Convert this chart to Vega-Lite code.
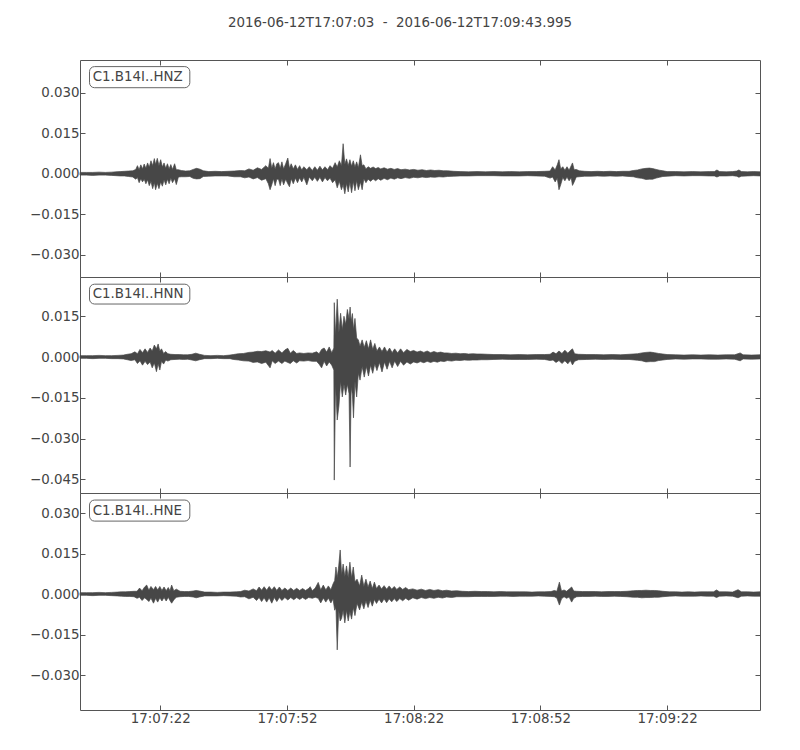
{
  "$schema": "https://vega.github.io/schema/vega-lite/v6.json",
  "background": "white",
  "padding": {"left": 28, "top": 15, "right": 30, "bottom": 10},
  "bounds": "flush",
  "spacing": 0,
  "title": {"text": "2016-06-12T17:07:03\u00a0\u00a0-\u00a0\u00a02016-06-12T17:09:43.995", "fontSize": 13.4, "font": "DejaVu Sans", "fontWeight": "normal", "color": "#444444", "anchor": "middle", "frame": "group", "offset": 30, "dx": -20},
  "config": {
    "font": "DejaVu Sans",
    "view": {"stroke": "#555555", "strokeWidth": 1},
    "axis": {"domain": false, "grid": false, "tickColor": "#555555", "tickSize": -5, "labelFontSize": 13.4, "labelColor": "#444444", "labelFont": "DejaVu Sans", "title": null, "labelPadding": 6}
  },
  "datasets": {
    "hnz": [
      {"t":0,"hi":0.0005,"lo":-0.0005},{"t":1.5,"hi":0.0005,"lo":-0.0005},{"t":3,"hi":0.0005,"lo":-0.0006},{"t":4.5,"hi":0.0006,"lo":-0.0005},{"t":6,"hi":0.0005,"lo":-0.0005},{"t":7.5,"hi":0.0006,"lo":-0.0006},{"t":8.5,"hi":0.0007,"lo":-0.0007},{"t":9.5,"hi":0.0008,"lo":-0.0008},{"t":10.5,"hi":0.0009,"lo":-0.0008},{"t":11.5,"hi":0.0010,"lo":-0.0010},{"t":12.5,"hi":0.0011,"lo":-0.0012},
      {"t":13.2,"hi":0.0016,"lo":-0.0020},{"t":13.6,"hi":0.0030,"lo":-0.0014},{"t":14,"hi":0.0015,"lo":-0.0033},{"t":14.4,"hi":0.0033,"lo":-0.0018},{"t":14.8,"hi":0.0018,"lo":-0.0030},{"t":15.2,"hi":0.0036,"lo":-0.0020},{"t":15.6,"hi":0.0020,"lo":-0.0037},{"t":16,"hi":0.0040,"lo":-0.0022},{"t":16.4,"hi":0.0024,"lo":-0.0044},{"t":16.8,"hi":0.0048,"lo":-0.0028},{"t":17.2,"hi":0.0030,"lo":-0.0055},{"t":17.6,"hi":0.0056,"lo":-0.0032},{"t":17.9,"hi":0.0034,"lo":-0.0059},{"t":18.3,"hi":0.0057,"lo":-0.0035},{"t":18.7,"hi":0.0030,"lo":-0.0055},{"t":19.1,"hi":0.0052,"lo":-0.0030},{"t":19.5,"hi":0.0025,"lo":-0.0046},{"t":19.9,"hi":0.0040,"lo":-0.0022},{"t":20.3,"hi":0.0020,"lo":-0.0041},{"t":20.7,"hi":0.0037,"lo":-0.0020},{"t":21.1,"hi":0.0018,"lo":-0.0037},{"t":21.5,"hi":0.0034,"lo":-0.0016},{"t":21.9,"hi":0.0016,"lo":-0.0033},{"t":22.4,"hi":0.0037,"lo":-0.0018},{"t":22.8,"hi":0.0015,"lo":-0.0040},{"t":23.3,"hi":0.0015,"lo":-0.0012},
      {"t":24,"hi":0.0012,"lo":-0.0011},{"t":25,"hi":0.0010,"lo":-0.0011},{"t":26,"hi":0.0011,"lo":-0.0010},{"t":26.8,"hi":0.0016,"lo":-0.0017},{"t":27.6,"hi":0.0020,"lo":-0.0019},{"t":28.4,"hi":0.0017,"lo":-0.0018},{"t":29.2,"hi":0.0011,"lo":-0.0010},{"t":30.5,"hi":0.0008,"lo":-0.0009},{"t":32,"hi":0.0009,"lo":-0.0008},{"t":33.5,"hi":0.0008,"lo":-0.0008},{"t":35,"hi":0.0009,"lo":-0.0008},{"t":36.5,"hi":0.0010,"lo":-0.0011},{"t":38,"hi":0.0012,"lo":-0.0011},
      {"t":39,"hi":0.0011,"lo":-0.0015},{"t":40,"hi":0.0018,"lo":-0.0012},{"t":41,"hi":0.0013,"lo":-0.0019},{"t":42,"hi":0.0022,"lo":-0.0014},{"t":43,"hi":0.0016,"lo":-0.0024},{"t":44,"hi":0.0030,"lo":-0.0018},
      {"t":44.6,"hi":0.0020,"lo":-0.0037},{"t":45,"hi":0.0056,"lo":-0.0059},{"t":45.4,"hi":0.0020,"lo":-0.0041},{"t":45.8,"hi":0.0041,"lo":-0.0018},{"t":46.2,"hi":0.0018,"lo":-0.0044},{"t":46.6,"hi":0.0037,"lo":-0.0020},{"t":47,"hi":0.0041,"lo":-0.0020},{"t":47.4,"hi":0.0020,"lo":-0.0044},{"t":47.8,"hi":0.0044,"lo":-0.0018},{"t":48.2,"hi":0.0018,"lo":-0.0041},{"t":48.7,"hi":0.0037,"lo":-0.0020},{"t":49.2,"hi":0.0058,"lo":-0.0037},{"t":49.6,"hi":0.0020,"lo":-0.0048},{"t":50,"hi":0.0037,"lo":-0.0018},{"t":50.5,"hi":0.0018,"lo":-0.0037},{"t":51,"hi":0.0033,"lo":-0.0016},{"t":51.5,"hi":0.0016,"lo":-0.0033},{"t":52,"hi":0.0030,"lo":-0.0015},{"t":52.5,"hi":0.0014,"lo":-0.0030},{"t":53,"hi":0.0026,"lo":-0.0013},{"t":53.7,"hi":0.0015,"lo":-0.0041},{"t":54.3,"hi":0.0026,"lo":-0.0012},{"t":55,"hi":0.0012,"lo":-0.0026},{"t":55.6,"hi":0.0026,"lo":-0.0013},{"t":56.2,"hi":0.0013,"lo":-0.0028},{"t":56.8,"hi":0.0028,"lo":-0.0013},{"t":57.4,"hi":0.0014,"lo":-0.0030},{"t":58,"hi":0.0026,"lo":-0.0014},{"t":58.6,"hi":0.0015,"lo":-0.0026},{"t":59.2,"hi":0.0030,"lo":-0.0016},{"t":59.8,"hi":0.0020,"lo":-0.0033},
      {"t":60.4,"hi":0.0041,"lo":-0.0022},{"t":60.9,"hi":0.0025,"lo":-0.0052},{"t":61.4,"hi":0.0048,"lo":-0.0028},{"t":61.9,"hi":0.0030,"lo":-0.0059},{"t":62.3,"hi":0.0111,"lo":-0.0040},{"t":62.7,"hi":0.0035,"lo":-0.0074},{"t":63.1,"hi":0.0055,"lo":-0.0035},{"t":63.5,"hi":0.0030,"lo":-0.0067},{"t":63.9,"hi":0.0052,"lo":-0.0030},{"t":64.3,"hi":0.0028,"lo":-0.0070},{"t":64.7,"hi":0.0048,"lo":-0.0028},{"t":65.1,"hi":0.0025,"lo":-0.0063},{"t":65.5,"hi":0.0044,"lo":-0.0025},{"t":65.9,"hi":0.0022,"lo":-0.0059},{"t":66.4,"hi":0.0070,"lo":-0.0030},{"t":66.8,"hi":0.0030,"lo":-0.0059},{"t":67.2,"hi":0.0033,"lo":-0.0018},{"t":67.7,"hi":0.0018,"lo":-0.0033},
      {"t":68.2,"hi":0.0026,"lo":-0.0020},{"t":68.8,"hi":0.0020,"lo":-0.0028},{"t":69.4,"hi":0.0025,"lo":-0.0019},{"t":70,"hi":0.0019,"lo":-0.0026},{"t":70.6,"hi":0.0023,"lo":-0.0018},{"t":71.2,"hi":0.0018,"lo":-0.0024},{"t":72,"hi":0.0022,"lo":-0.0017},{"t":72.8,"hi":0.0017,"lo":-0.0022},{"t":73.6,"hi":0.0020,"lo":-0.0016},{"t":74.4,"hi":0.0016,"lo":-0.0020},{"t":75.2,"hi":0.0019,"lo":-0.0015},{"t":76,"hi":0.0015,"lo":-0.0018},{"t":77,"hi":0.0017,"lo":-0.0014},{"t":78,"hi":0.0014,"lo":-0.0017},{"t":79,"hi":0.0016,"lo":-0.0013},{"t":80,"hi":0.0013,"lo":-0.0015},{"t":81,"hi":0.0015,"lo":-0.0012},{"t":82,"hi":0.0012,"lo":-0.0014},{"t":83,"hi":0.0014,"lo":-0.0012},{"t":84,"hi":0.0012,"lo":-0.0013},{"t":85,"hi":0.0013,"lo":-0.0011},{"t":86,"hi":0.0011,"lo":-0.0012},{"t":87,"hi":0.0011,"lo":-0.0010},
      {"t":88.5,"hi":0.0009,"lo":-0.0009},{"t":90,"hi":0.0008,"lo":-0.0008},{"t":92,"hi":0.0007,"lo":-0.0008},{"t":94,"hi":0.0008,"lo":-0.0007},{"t":96,"hi":0.0007,"lo":-0.0007},{"t":98,"hi":0.0008,"lo":-0.0007},{"t":100,"hi":0.0007,"lo":-0.0008},{"t":102,"hi":0.0008,"lo":-0.0008},{"t":104,"hi":0.0007,"lo":-0.0008},{"t":106,"hi":0.0008,"lo":-0.0007},{"t":108,"hi":0.0008,"lo":-0.0008},{"t":110,"hi":0.0009,"lo":-0.0009},
      {"t":111.3,"hi":0.0010,"lo":-0.0016},{"t":111.9,"hi":0.0026,"lo":-0.0012},{"t":112.5,"hi":0.0014,"lo":-0.0030},{"t":113,"hi":0.0033,"lo":-0.0016},{"t":113.4,"hi":0.0052,"lo":-0.0059},{"t":113.8,"hi":0.0018,"lo":-0.0041},{"t":114.3,"hi":0.0026,"lo":-0.0014},{"t":114.8,"hi":0.0013,"lo":-0.0026},{"t":115.3,"hi":0.0026,"lo":-0.0012},{"t":115.8,"hi":0.0013,"lo":-0.0026},{"t":116.3,"hi":0.0030,"lo":-0.0015},{"t":116.6,"hi":0.0040,"lo":-0.0043},{"t":117,"hi":0.0015,"lo":-0.0030},{"t":117.5,"hi":0.0016,"lo":-0.0012},
      {"t":118.2,"hi":0.0011,"lo":-0.0011},{"t":119.5,"hi":0.0009,"lo":-0.0009},{"t":121,"hi":0.0008,"lo":-0.0009},{"t":122.5,"hi":0.0009,"lo":-0.0008},{"t":124,"hi":0.0008,"lo":-0.0009},{"t":125.5,"hi":0.0009,"lo":-0.0008},{"t":127,"hi":0.0008,"lo":-0.0009},{"t":128.5,"hi":0.0009,"lo":-0.0008},{"t":130,"hi":0.0009,"lo":-0.0010},
      {"t":131,"hi":0.0012,"lo":-0.0011},{"t":132,"hi":0.0014,"lo":-0.0015},{"t":133,"hi":0.0018,"lo":-0.0017},{"t":134,"hi":0.0020,"lo":-0.0021},{"t":134.8,"hi":0.0021,"lo":-0.0020},{"t":135.6,"hi":0.0019,"lo":-0.0020},{"t":136.4,"hi":0.0016,"lo":-0.0016},{"t":137.2,"hi":0.0013,"lo":-0.0013},{"t":138,"hi":0.0011,"lo":-0.0010},{"t":139,"hi":0.0008,"lo":-0.0009},
      {"t":141,"hi":0.0008,"lo":-0.0007},{"t":143,"hi":0.0007,"lo":-0.0008},{"t":145,"hi":0.0008,"lo":-0.0007},{"t":147,"hi":0.0007,"lo":-0.0007},{"t":149,"hi":0.0008,"lo":-0.0008},{"t":150.2,"hi":0.0008,"lo":-0.0008},{"t":150.8,"hi":0.0014,"lo":-0.0012},{"t":151.4,"hi":0.0008,"lo":-0.0008},{"t":153,"hi":0.0007,"lo":-0.0008},{"t":154.5,"hi":0.0008,"lo":-0.0007},{"t":155.5,"hi":0.0010,"lo":-0.0009},{"t":156,"hi":0.0014,"lo":-0.0013},{"t":156.6,"hi":0.0008,"lo":-0.0009},{"t":158,"hi":0.0007,"lo":-0.0008},{"t":159.5,"hi":0.0008,"lo":-0.0007},{"t":161,"hi":0.0007,"lo":-0.0008}
    ],
    "hnn": [
      {"t":0,"hi":0.0005,"lo":-0.0005},{"t":1.5,"hi":0.0005,"lo":-0.0005},{"t":3,"hi":0.0005,"lo":-0.0006},{"t":4.5,"hi":0.0006,"lo":-0.0005},{"t":6,"hi":0.0005,"lo":-0.0005},{"t":7.5,"hi":0.0005,"lo":-0.0006},{"t":9,"hi":0.0006,"lo":-0.0006},{"t":10.3,"hi":0.0007,"lo":-0.0007},{"t":11.2,"hi":0.0010,"lo":-0.0010},{"t":12.1,"hi":0.0012,"lo":-0.0013},
      {"t":13,"hi":0.0019,"lo":-0.0010},{"t":13.6,"hi":0.0012,"lo":-0.0024},{"t":14.2,"hi":0.0028,"lo":-0.0014},{"t":14.8,"hi":0.0016,"lo":-0.0030},{"t":15.4,"hi":0.0030,"lo":-0.0016},{"t":16,"hi":0.0017,"lo":-0.0028},{"t":16.6,"hi":0.0033,"lo":-0.0018},{"t":17.1,"hi":0.0022,"lo":-0.0040},{"t":17.6,"hi":0.0044,"lo":-0.0022},{"t":18.1,"hi":0.0030,"lo":-0.0054},{"t":18.5,"hi":0.0048,"lo":-0.0025},{"t":18.9,"hi":0.0022,"lo":-0.0048},{"t":19.3,"hi":0.0030,"lo":-0.0016},{"t":19.8,"hi":0.0013,"lo":-0.0026},{"t":20.3,"hi":0.0020,"lo":-0.0011},{"t":20.8,"hi":0.0012,"lo":-0.0015},
      {"t":21.5,"hi":0.0010,"lo":-0.0010},{"t":22.5,"hi":0.0009,"lo":-0.0009},{"t":23.5,"hi":0.0009,"lo":-0.0008},{"t":24.5,"hi":0.0008,"lo":-0.0009},{"t":25.5,"hi":0.0008,"lo":-0.0008},{"t":26.5,"hi":0.0010,"lo":-0.0011},{"t":27.4,"hi":0.0014,"lo":-0.0014},{"t":28.3,"hi":0.0010,"lo":-0.0010},{"t":29.5,"hi":0.0006,"lo":-0.0006},{"t":31,"hi":0.0005,"lo":-0.0006},{"t":32.5,"hi":0.0006,"lo":-0.0005},{"t":34,"hi":0.0005,"lo":-0.0006},{"t":35.5,"hi":0.0007,"lo":-0.0006},
      {"t":36.3,"hi":0.0009,"lo":-0.0009},{"t":37.5,"hi":0.0012,"lo":-0.0011},{"t":38.7,"hi":0.0013,"lo":-0.0014},{"t":40,"hi":0.0017,"lo":-0.0015},{"t":41,"hi":0.0018,"lo":-0.0020},{"t":42,"hi":0.0021,"lo":-0.0018},{"t":43,"hi":0.0020,"lo":-0.0024},{"t":44,"hi":0.0023,"lo":-0.0019},{"t":45,"hi":0.0018,"lo":-0.0040},{"t":45.5,"hi":0.0024,"lo":-0.0014},{"t":46.2,"hi":0.0014,"lo":-0.0024},{"t":47,"hi":0.0026,"lo":-0.0015},{"t":47.8,"hi":0.0015,"lo":-0.0024},{"t":48.5,"hi":0.0026,"lo":-0.0015},{"t":49.2,"hi":0.0032,"lo":-0.0020},{"t":49.8,"hi":0.0014,"lo":-0.0024},{"t":50.5,"hi":0.0024,"lo":-0.0014},{"t":51.3,"hi":0.0013,"lo":-0.0022},
      {"t":52,"hi":0.0015,"lo":-0.0014},{"t":53,"hi":0.0013,"lo":-0.0015},{"t":54,"hi":0.0015,"lo":-0.0013},{"t":55,"hi":0.0014,"lo":-0.0016},{"t":56,"hi":0.0019,"lo":-0.0016},{"t":56.6,"hi":0.0012,"lo":-0.0026},{"t":57.2,"hi":0.0028,"lo":-0.0040},{"t":57.8,"hi":0.0033,"lo":-0.0016},{"t":58.4,"hi":0.0018,"lo":-0.0033},{"t":59,"hi":0.0037,"lo":-0.0018},{"t":59.6,"hi":0.0016,"lo":-0.0030},{"t":60.1,"hi":0.0033,"lo":-0.0048},
      {"t":60.2,"hi":0.0200,"lo":-0.0453},{"t":60.5,"hi":0.0080,"lo":-0.0100},{"t":60.9,"hi":0.0213,"lo":-0.0232},{"t":61.3,"hi":0.0090,"lo":-0.0180},{"t":61.7,"hi":0.0161,"lo":-0.0090},{"t":62.1,"hi":0.0100,"lo":-0.0147},{"t":62.5,"hi":0.0150,"lo":-0.0100},{"t":62.9,"hi":0.0120,"lo":-0.0140},{"t":63.3,"hi":0.0175,"lo":-0.0100},{"t":63.7,"hi":0.0140,"lo":-0.0135},{"t":63.95,"hi":0.0184,"lo":-0.0405},{"t":64.2,"hi":0.0130,"lo":-0.0110},{"t":64.5,"hi":0.0160,"lo":-0.0140},{"t":64.75,"hi":0.0100,"lo":-0.0224},{"t":65.1,"hi":0.0142,"lo":-0.0090},{"t":65.5,"hi":0.0070,"lo":-0.0147},{"t":65.9,"hi":0.0063,"lo":-0.0060},{"t":66.3,"hi":0.0040,"lo":-0.0085},
      {"t":66.8,"hi":0.0063,"lo":-0.0035},{"t":67.3,"hi":0.0035,"lo":-0.0074},{"t":67.8,"hi":0.0060,"lo":-0.0035},{"t":68.3,"hi":0.0030,"lo":-0.0070},{"t":68.8,"hi":0.0063,"lo":-0.0030},{"t":69.3,"hi":0.0028,"lo":-0.0060},{"t":69.8,"hi":0.0050,"lo":-0.0025},{"t":70.3,"hi":0.0022,"lo":-0.0050},{"t":70.9,"hi":0.0037,"lo":-0.0020},{"t":71.5,"hi":0.0020,"lo":-0.0055},{"t":72.1,"hi":0.0037,"lo":-0.0018},{"t":72.7,"hi":0.0018,"lo":-0.0045},{"t":73.3,"hi":0.0033,"lo":-0.0016},{"t":73.9,"hi":0.0016,"lo":-0.0040},{"t":74.5,"hi":0.0030,"lo":-0.0015},{"t":75.2,"hi":0.0015,"lo":-0.0035},{"t":75.9,"hi":0.0030,"lo":-0.0016},{"t":76.6,"hi":0.0016,"lo":-0.0030},{"t":77.4,"hi":0.0028,"lo":-0.0018},
      {"t":78.2,"hi":0.0020,"lo":-0.0026},{"t":79,"hi":0.0024,"lo":-0.0018},{"t":79.8,"hi":0.0018,"lo":-0.0022},{"t":80.6,"hi":0.0022,"lo":-0.0017},{"t":81.4,"hi":0.0017,"lo":-0.0021},{"t":82.2,"hi":0.0022,"lo":-0.0016},{"t":83,"hi":0.0016,"lo":-0.0020},{"t":83.8,"hi":0.0020,"lo":-0.0016},{"t":84.6,"hi":0.0016,"lo":-0.0019},{"t":85.4,"hi":0.0018,"lo":-0.0015},{"t":86.2,"hi":0.0015,"lo":-0.0017},{"t":87,"hi":0.0015,"lo":-0.0013},{"t":88,"hi":0.0013,"lo":-0.0015},{"t":89,"hi":0.0014,"lo":-0.0012},{"t":90,"hi":0.0012,"lo":-0.0013},{"t":91,"hi":0.0013,"lo":-0.0011},{"t":92,"hi":0.0011,"lo":-0.0012},{"t":93,"hi":0.0012,"lo":-0.0011},{"t":94,"hi":0.0011,"lo":-0.0011},{"t":95,"hi":0.0011,"lo":-0.0010},{"t":96.4,"hi":0.0010,"lo":-0.0010},
      {"t":98,"hi":0.0009,"lo":-0.0009},{"t":100,"hi":0.0009,"lo":-0.0008},{"t":102,"hi":0.0008,"lo":-0.0009},{"t":104,"hi":0.0009,"lo":-0.0009},{"t":106,"hi":0.0008,"lo":-0.0009},{"t":108,"hi":0.0009,"lo":-0.0008},{"t":110,"hi":0.0009,"lo":-0.0009},
      {"t":111.3,"hi":0.0010,"lo":-0.0013},{"t":112,"hi":0.0018,"lo":-0.0011},{"t":112.7,"hi":0.0012,"lo":-0.0020},{"t":113.4,"hi":0.0022,"lo":-0.0013},{"t":114.1,"hi":0.0013,"lo":-0.0024},{"t":114.8,"hi":0.0025,"lo":-0.0014},{"t":115.5,"hi":0.0014,"lo":-0.0025},{"t":116.1,"hi":0.0024,"lo":-0.0013},{"t":116.6,"hi":0.0030,"lo":-0.0029},{"t":117.1,"hi":0.0012,"lo":-0.0016},
      {"t":118,"hi":0.0010,"lo":-0.0010},{"t":120,"hi":0.0009,"lo":-0.0009},{"t":122,"hi":0.0009,"lo":-0.0008},{"t":124,"hi":0.0008,"lo":-0.0009},{"t":126,"hi":0.0009,"lo":-0.0008},{"t":128,"hi":0.0008,"lo":-0.0009},{"t":130,"hi":0.0010,"lo":-0.0009},
      {"t":132,"hi":0.0012,"lo":-0.0012},{"t":133,"hi":0.0015,"lo":-0.0014},{"t":134,"hi":0.0017,"lo":-0.0018},{"t":135,"hi":0.0018,"lo":-0.0017},{"t":136,"hi":0.0016,"lo":-0.0017},{"t":137,"hi":0.0013,"lo":-0.0013},{"t":138,"hi":0.0011,"lo":-0.0011},{"t":139,"hi":0.0009,"lo":-0.0009},
      {"t":141,"hi":0.0008,"lo":-0.0007},{"t":143,"hi":0.0007,"lo":-0.0008},{"t":145,"hi":0.0008,"lo":-0.0007},{"t":147,"hi":0.0007,"lo":-0.0007},{"t":149,"hi":0.0008,"lo":-0.0008},{"t":151,"hi":0.0007,"lo":-0.0008},{"t":153,"hi":0.0008,"lo":-0.0007},{"t":155,"hi":0.0008,"lo":-0.0008},{"t":156.3,"hi":0.0015,"lo":-0.0014},{"t":157,"hi":0.0008,"lo":-0.0007},{"t":159,"hi":0.0007,"lo":-0.0008},{"t":161,"hi":0.0008,"lo":-0.0007}
    ],
    "hne": [
      {"t":0,"hi":0.0005,"lo":-0.0005},{"t":1.5,"hi":0.0005,"lo":-0.0005},{"t":3,"hi":0.0005,"lo":-0.0006},{"t":4.5,"hi":0.0006,"lo":-0.0005},{"t":6,"hi":0.0005,"lo":-0.0005},{"t":7.5,"hi":0.0006,"lo":-0.0006},{"t":8.8,"hi":0.0007,"lo":-0.0007},{"t":9.8,"hi":0.0008,"lo":-0.0008},{"t":10.8,"hi":0.0008,"lo":-0.0009},{"t":11.8,"hi":0.0009,"lo":-0.0009},{"t":12.8,"hi":0.0010,"lo":-0.0010},
      {"t":13.5,"hi":0.0010,"lo":-0.0016},{"t":14.1,"hi":0.0022,"lo":-0.0012},{"t":14.7,"hi":0.0012,"lo":-0.0024},{"t":15.3,"hi":0.0026,"lo":-0.0014},{"t":15.8,"hi":0.0033,"lo":-0.0020},{"t":16.3,"hi":0.0014,"lo":-0.0028},{"t":16.8,"hi":0.0028,"lo":-0.0015},{"t":17.4,"hi":0.0016,"lo":-0.0034},{"t":17.9,"hi":0.0028,"lo":-0.0016},{"t":18.4,"hi":0.0015,"lo":-0.0030},{"t":18.9,"hi":0.0028,"lo":-0.0014},{"t":19.4,"hi":0.0013,"lo":-0.0026},{"t":19.9,"hi":0.0026,"lo":-0.0013},{"t":20.4,"hi":0.0012,"lo":-0.0026},{"t":20.9,"hi":0.0024,"lo":-0.0012},{"t":21.3,"hi":0.0012,"lo":-0.0024},{"t":21.7,"hi":0.0033,"lo":-0.0034},{"t":22.2,"hi":0.0012,"lo":-0.0022},{"t":22.8,"hi":0.0018,"lo":-0.0012},
      {"t":23.7,"hi":0.0010,"lo":-0.0010},{"t":24.7,"hi":0.0009,"lo":-0.0009},{"t":25.7,"hi":0.0009,"lo":-0.0009},{"t":26.8,"hi":0.0011,"lo":-0.0011},{"t":27.5,"hi":0.0013,"lo":-0.0014},{"t":28.3,"hi":0.0011,"lo":-0.0011},{"t":29.5,"hi":0.0007,"lo":-0.0007},{"t":31,"hi":0.0007,"lo":-0.0007},{"t":32.5,"hi":0.0006,"lo":-0.0007},{"t":34,"hi":0.0007,"lo":-0.0006},{"t":35.5,"hi":0.0007,"lo":-0.0007},{"t":37,"hi":0.0008,"lo":-0.0008},
      {"t":38,"hi":0.0009,"lo":-0.0011},{"t":39,"hi":0.0014,"lo":-0.0010},{"t":40,"hi":0.0011,"lo":-0.0018},{"t":41,"hi":0.0019,"lo":-0.0012},{"t":41.8,"hi":0.0012,"lo":-0.0024},{"t":42.4,"hi":0.0026,"lo":-0.0013},{"t":43,"hi":0.0014,"lo":-0.0028},{"t":43.6,"hi":0.0027,"lo":-0.0014},{"t":44.2,"hi":0.0014,"lo":-0.0030},{"t":44.8,"hi":0.0028,"lo":-0.0014},{"t":45.4,"hi":0.0015,"lo":-0.0034},{"t":46,"hi":0.0027,"lo":-0.0013},{"t":46.6,"hi":0.0013,"lo":-0.0028},{"t":47.2,"hi":0.0026,"lo":-0.0013},{"t":47.8,"hi":0.0013,"lo":-0.0024},{"t":48.5,"hi":0.0022,"lo":-0.0013},{"t":49.2,"hi":0.0013,"lo":-0.0022},{"t":49.9,"hi":0.0022,"lo":-0.0013},{"t":50.6,"hi":0.0013,"lo":-0.0021},{"t":51.3,"hi":0.0021,"lo":-0.0013},{"t":52,"hi":0.0013,"lo":-0.0020},{"t":52.7,"hi":0.0020,"lo":-0.0013},{"t":53.4,"hi":0.0013,"lo":-0.0020},{"t":54.1,"hi":0.0020,"lo":-0.0013},{"t":54.5,"hi":0.0027,"lo":-0.0014},{"t":55,"hi":0.0012,"lo":-0.0016},
      {"t":55.7,"hi":0.0022,"lo":-0.0012},{"t":56.4,"hi":0.0043,"lo":-0.0016},{"t":57,"hi":0.0015,"lo":-0.0033},{"t":57.6,"hi":0.0033,"lo":-0.0015},{"t":58.2,"hi":0.0015,"lo":-0.0030},{"t":58.8,"hi":0.0030,"lo":-0.0015},{"t":59.4,"hi":0.0016,"lo":-0.0033},{"t":59.9,"hi":0.0037,"lo":-0.0018},
      {"t":60.3,"hi":0.0050,"lo":-0.0060},{"t":60.6,"hi":0.0100,"lo":-0.0050},{"t":60.9,"hi":0.0060,"lo":-0.0207},{"t":61.25,"hi":0.0104,"lo":-0.0060},{"t":61.6,"hi":0.0163,"lo":-0.0100},{"t":61.95,"hi":0.0070,"lo":-0.0090},{"t":62.3,"hi":0.0111,"lo":-0.0060},{"t":62.7,"hi":0.0065,"lo":-0.0107},{"t":63.1,"hi":0.0104,"lo":-0.0060},{"t":63.5,"hi":0.0060,"lo":-0.0100},{"t":63.9,"hi":0.0118,"lo":-0.0065},{"t":64.3,"hi":0.0060,"lo":-0.0093},{"t":64.7,"hi":0.0100,"lo":-0.0050},{"t":65.1,"hi":0.0045,"lo":-0.0080},
      {"t":65.6,"hi":0.0055,"lo":-0.0035},{"t":66.2,"hi":0.0030,"lo":-0.0059},{"t":66.7,"hi":0.0070,"lo":-0.0030},{"t":67.2,"hi":0.0028,"lo":-0.0055},{"t":67.7,"hi":0.0055,"lo":-0.0025},{"t":68.2,"hi":0.0025,"lo":-0.0050},{"t":68.7,"hi":0.0048,"lo":-0.0022},{"t":69.2,"hi":0.0020,"lo":-0.0045},{"t":69.7,"hi":0.0044,"lo":-0.0020},
      {"t":70.2,"hi":0.0020,"lo":-0.0035},{"t":70.8,"hi":0.0033,"lo":-0.0019},{"t":71.4,"hi":0.0019,"lo":-0.0033},{"t":72,"hi":0.0031,"lo":-0.0018},{"t":72.6,"hi":0.0018,"lo":-0.0032},{"t":73.2,"hi":0.0030,"lo":-0.0018},{"t":73.8,"hi":0.0018,"lo":-0.0029},{"t":74.4,"hi":0.0028,"lo":-0.0017},{"t":75,"hi":0.0017,"lo":-0.0028},{"t":75.7,"hi":0.0026,"lo":-0.0017},{"t":76.4,"hi":0.0017,"lo":-0.0025},{"t":77.1,"hi":0.0024,"lo":-0.0016},{"t":77.8,"hi":0.0016,"lo":-0.0023},
      {"t":78.8,"hi":0.0019,"lo":-0.0014},{"t":79.8,"hi":0.0014,"lo":-0.0019},{"t":80.8,"hi":0.0018,"lo":-0.0013},{"t":81.8,"hi":0.0013,"lo":-0.0017},{"t":82.8,"hi":0.0017,"lo":-0.0013},{"t":83.8,"hi":0.0013,"lo":-0.0016},{"t":84.8,"hi":0.0016,"lo":-0.0012},{"t":85.8,"hi":0.0012,"lo":-0.0015},{"t":86.8,"hi":0.0014,"lo":-0.0011},{"t":88,"hi":0.0011,"lo":-0.0013},{"t":89.2,"hi":0.0012,"lo":-0.0010},
      {"t":90.5,"hi":0.0010,"lo":-0.0010},{"t":92,"hi":0.0009,"lo":-0.0010},{"t":93.5,"hi":0.0010,"lo":-0.0009},{"t":95,"hi":0.0009,"lo":-0.0009},{"t":96.5,"hi":0.0009,"lo":-0.0009},{"t":98,"hi":0.0008,"lo":-0.0009},{"t":99.5,"hi":0.0009,"lo":-0.0008},{"t":101,"hi":0.0008,"lo":-0.0008},{"t":102.5,"hi":0.0008,"lo":-0.0009},{"t":104,"hi":0.0008,"lo":-0.0008},{"t":105.5,"hi":0.0008,"lo":-0.0008},{"t":107,"hi":0.0007,"lo":-0.0008},{"t":108.5,"hi":0.0008,"lo":-0.0007},{"t":110,"hi":0.0008,"lo":-0.0008},{"t":111.5,"hi":0.0009,"lo":-0.0009},
      {"t":112.3,"hi":0.0013,"lo":-0.0010},{"t":112.9,"hi":0.0010,"lo":-0.0015},{"t":113.5,"hi":0.0044,"lo":-0.0041},{"t":114,"hi":0.0011,"lo":-0.0018},{"t":114.6,"hi":0.0015,"lo":-0.0010},{"t":115.2,"hi":0.0010,"lo":-0.0016},{"t":115.8,"hi":0.0018,"lo":-0.0011},{"t":116.4,"hi":0.0026,"lo":-0.0030},{"t":116.9,"hi":0.0011,"lo":-0.0016},
      {"t":117.6,"hi":0.0010,"lo":-0.0010},{"t":119,"hi":0.0009,"lo":-0.0009},{"t":120.5,"hi":0.0009,"lo":-0.0009},{"t":122,"hi":0.0009,"lo":-0.0008},{"t":123.5,"hi":0.0008,"lo":-0.0009},{"t":125,"hi":0.0009,"lo":-0.0009},{"t":126.5,"hi":0.0009,"lo":-0.0008},{"t":128,"hi":0.0009,"lo":-0.0009},{"t":129.5,"hi":0.0010,"lo":-0.0010},
      {"t":131,"hi":0.0012,"lo":-0.0012},{"t":132,"hi":0.0013,"lo":-0.0012},{"t":133,"hi":0.0013,"lo":-0.0014},{"t":134,"hi":0.0014,"lo":-0.0013},{"t":135,"hi":0.0013,"lo":-0.0013},{"t":136,"hi":0.0013,"lo":-0.0012},{"t":137,"hi":0.0012,"lo":-0.0012},{"t":138,"hi":0.0010,"lo":-0.0010},
      {"t":139.5,"hi":0.0008,"lo":-0.0008},{"t":141,"hi":0.0008,"lo":-0.0007},{"t":142.5,"hi":0.0007,"lo":-0.0008},{"t":144,"hi":0.0008,"lo":-0.0008},{"t":145.5,"hi":0.0007,"lo":-0.0008},{"t":147,"hi":0.0008,"lo":-0.0007},{"t":148.5,"hi":0.0008,"lo":-0.0008},{"t":150,"hi":0.0008,"lo":-0.0008},{"t":150.7,"hi":0.0015,"lo":-0.0013},{"t":151.4,"hi":0.0008,"lo":-0.0008},{"t":153,"hi":0.0008,"lo":-0.0007},{"t":154.5,"hi":0.0007,"lo":-0.0008},{"t":155.8,"hi":0.0016,"lo":-0.0014},{"t":156.6,"hi":0.0008,"lo":-0.0008},{"t":158,"hi":0.0008,"lo":-0.0007},{"t":159.5,"hi":0.0007,"lo":-0.0008},{"t":161,"hi":0.0008,"lo":-0.0008}
    ]
  },
  "vconcat": [
    {
      "width": 680, "height": 217,
      "layer": [
        {
          "data": {"name": "hnz"},
          "mark": {"type": "area", "color": "#474747", "stroke": "#474747", "strokeWidth": 0.7},
          "encoding": {
            "x": {"field": "t", "type": "quantitative", "scale": {"domain": [0, 160.995], "nice": false, "zero": false}, "axis": {"orient": "bottom", "values": [19, 49, 79, 109, 139], "labels": false}},
            "y": {"field": "hi", "type": "quantitative", "scale": {"domain": [-0.03815, 0.04204], "nice": false, "zero": false}, "axis": {"orient": "left", "values": [-0.03, -0.015, 0, 0.015, 0.03], "format": ".3f"}},
            "y2": {"field": "lo"}
          }
        },
        {
          "data": {"values": [{"label": "C1.B14I..HNZ", "x0": 2.25, "x1": 26.0, "y0": 0.0318, "y1": 0.0396}]},
          "mark": {"type": "rect", "cornerRadius": 5, "fill": "white", "stroke": "#666666", "strokeWidth": 1},
          "encoding": {
            "x": {"field": "x0", "type": "quantitative", "scale": {"domain": [0, 160.995], "nice": false, "zero": false}, "axis": {"orient": "top", "values": [19, 49, 79, 109, 139], "labels": false}},
            "x2": {"field": "x1"},
            "y": {"field": "y0", "type": "quantitative", "scale": {"domain": [-0.03815, 0.04204], "nice": false, "zero": false}, "axis": {"orient": "right", "values": [-0.03, -0.015, 0, 0.015, 0.03], "labels": false}},
            "y2": {"field": "y1"}
          }
        },
        {
          "data": {"values": [{"label": "C1.B14I..HNZ", "x": 3.0, "y": 0.0357}]},
          "mark": {"type": "text", "align": "left", "baseline": "middle", "fontSize": 13.4, "color": "#444444", "font": "DejaVu Sans"},
          "encoding": {
            "x": {"field": "x", "type": "quantitative", "scale": {"domain": [0, 160.995], "nice": false, "zero": false}, "axis": null},
            "y": {"field": "y", "type": "quantitative", "scale": {"domain": [-0.03815, 0.04204], "nice": false, "zero": false}, "axis": null},
            "text": {"field": "label"}
          }
        }
      ],
      "resolve": {"axis": {"x": "independent", "y": "independent"}}
    },
    {
      "width": 680, "height": 216,
      "layer": [
        {
          "data": {"name": "hnn"},
          "mark": {"type": "area", "color": "#474747", "stroke": "#474747", "strokeWidth": 0.7},
          "encoding": {
            "x": {"field": "t", "type": "quantitative", "scale": {"domain": [0, 160.995], "nice": false, "zero": false}, "axis": {"orient": "bottom", "values": [19, 49, 79, 109, 139], "labels": false}},
            "y": {"field": "hi", "type": "quantitative", "scale": {"domain": [-0.05006, 0.02945], "nice": false, "zero": false}, "axis": {"orient": "left", "values": [-0.045, -0.03, -0.015, 0, 0.015], "format": ".3f"}},
            "y2": {"field": "lo"}
          }
        },
        {
          "data": {"values": [{"label": "C1.B14I..HNN", "x0": 2.25, "x1": 26.0, "y0": 0.0195, "y1": 0.0268}]},
          "mark": {"type": "rect", "cornerRadius": 5, "fill": "white", "stroke": "#666666", "strokeWidth": 1},
          "encoding": {
            "x": {"field": "x0", "type": "quantitative", "scale": {"domain": [0, 160.995], "nice": false, "zero": false}, "axis": {"orient": "top", "values": [19, 49, 79, 109, 139], "labels": false}},
            "x2": {"field": "x1"},
            "y": {"field": "y0", "type": "quantitative", "scale": {"domain": [-0.05006, 0.02945], "nice": false, "zero": false}, "axis": {"orient": "right", "values": [-0.045, -0.03, -0.015, 0, 0.015], "labels": false}},
            "y2": {"field": "y1"}
          }
        },
        {
          "data": {"values": [{"label": "C1.B14I..HNN", "x": 3.0, "y": 0.0231}]},
          "mark": {"type": "text", "align": "left", "baseline": "middle", "fontSize": 13.4, "color": "#444444", "font": "DejaVu Sans"},
          "encoding": {
            "x": {"field": "x", "type": "quantitative", "scale": {"domain": [0, 160.995], "nice": false, "zero": false}, "axis": null},
            "y": {"field": "y", "type": "quantitative", "scale": {"domain": [-0.05006, 0.02945], "nice": false, "zero": false}, "axis": null},
            "text": {"field": "label"}
          }
        }
      ],
      "resolve": {"axis": {"x": "independent", "y": "independent"}}
    },
    {
      "width": 680, "height": 217,
      "layer": [
        {
          "data": {"name": "hne"},
          "mark": {"type": "area", "color": "#474747", "stroke": "#474747", "strokeWidth": 0.7},
          "encoding": {
            "x": {"field": "t", "type": "quantitative", "scale": {"domain": [0, 160.995], "nice": false, "zero": false}, "axis": {"orient": "bottom", "values": [19, 49, 79, 109, 139], "labelExpr": "timeFormat(datetime(2016, 5, 12, 17, 7, 3 + datum.value), '%H:%M:%S')"}},
            "y": {"field": "hi", "type": "quantitative", "scale": {"domain": [-0.04296, 0.03741], "nice": false, "zero": false}, "axis": {"orient": "left", "values": [-0.03, -0.015, 0, 0.015, 0.03], "format": ".3f"}},
            "y2": {"field": "lo"}
          }
        },
        {
          "data": {"values": [{"label": "C1.B14I..HNE", "x0": 2.25, "x1": 26.0, "y0": 0.0270, "y1": 0.0348}]},
          "mark": {"type": "rect", "cornerRadius": 5, "fill": "white", "stroke": "#666666", "strokeWidth": 1},
          "encoding": {
            "x": {"field": "x0", "type": "quantitative", "scale": {"domain": [0, 160.995], "nice": false, "zero": false}, "axis": {"orient": "top", "values": [19, 49, 79, 109, 139], "labels": false}},
            "x2": {"field": "x1"},
            "y": {"field": "y0", "type": "quantitative", "scale": {"domain": [-0.04296, 0.03741], "nice": false, "zero": false}, "axis": {"orient": "right", "values": [-0.03, -0.015, 0, 0.015, 0.03], "labels": false}},
            "y2": {"field": "y1"}
          }
        },
        {
          "data": {"values": [{"label": "C1.B14I..HNE", "x": 3.0, "y": 0.0309}]},
          "mark": {"type": "text", "align": "left", "baseline": "middle", "fontSize": 13.4, "color": "#444444", "font": "DejaVu Sans"},
          "encoding": {
            "x": {"field": "x", "type": "quantitative", "scale": {"domain": [0, 160.995], "nice": false, "zero": false}, "axis": null},
            "y": {"field": "y", "type": "quantitative", "scale": {"domain": [-0.04296, 0.03741], "nice": false, "zero": false}, "axis": null},
            "text": {"field": "label"}
          }
        }
      ],
      "resolve": {"axis": {"x": "independent", "y": "independent"}}
    }
  ]
}
